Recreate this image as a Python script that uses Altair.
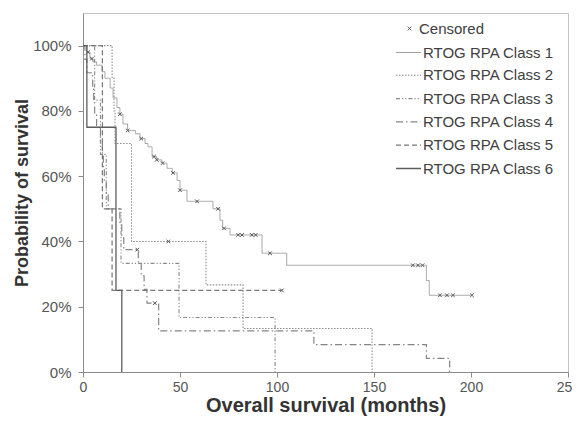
import altair as alt
import pandas as pd

classes = ["RTOG RPA Class 1", "RTOG RPA Class 2", "RTOG RPA Class 3",
           "RTOG RPA Class 4", "RTOG RPA Class 5", "RTOG RPA Class 6"]

# Kaplan-Meier step curves (months, survival %)
c1_t = [0, 2, 3.6, 5, 7, 9.8, 11.3, 14, 15.5, 17.5, 19, 20.6, 23, 27, 29.4, 32, 33.5,
        35.6, 38, 40.7, 43.3, 46, 48.5, 50, 53.6, 67, 70.6, 72, 75.8, 92.3, 105, 177, 178.5, 200.5]
c1_s = [100, 98, 96, 95, 94, 92, 90, 87, 84, 81, 79, 76, 74, 73, 71.5, 70, 69,
        66, 65, 64, 62.4, 61, 58.7, 55.7, 52.3, 50, 46.5, 44, 42, 36.4, 32.7, 28, 23.5, 23.5]
c1_cens = [2.6, 4.6, 19, 23, 30, 36.6, 38, 41, 46.4, 50, 58.8, 69.6, 72.7, 80, 82, 87, 89,
           96.4, 170, 172.7, 175, 184, 187.6, 190.7, 200.5]

c2_t = [0, 15, 16, 16.5, 25, 63.4, 82.5, 149]
c2_s = [100, 90, 80, 70, 40, 26.7, 13.3, 0]
c2_cens = [44]

c3_t = [0, 6, 9, 12, 19.6, 49.5, 99]
c3_s = [100, 83.3, 66.7, 50, 33.3, 16.7, 0]
c3_cens = []

c4_t = [0, 1, 2, 5, 5.5, 6, 7, 9, 10, 10.5, 11, 12, 13, 19, 20, 21, 28.5, 30, 31.5, 33, 39, 119, 177, 189]
c4_s = [100, 95.8, 91.7, 87.5, 83.3, 79.2, 75, 70.8, 66.7, 62.5, 58.3, 54.2, 50, 45.8, 41.7,
        37.5, 33.7, 29.5, 25.3, 21.1, 12.6, 8.4, 4.2, 0]
c4_cens = [28, 37]

c5_t = [0, 10, 15, 102.5]
c5_s = [100, 50, 25, 25]
c5_cens = [102.5]

c6_t = [0, 2, 17, 20]
c6_s = [100, 75, 25, 0]
c6_cens = []

curves = [(c1_t, c1_s, c1_cens), (c2_t, c2_s, c2_cens), (c3_t, c3_s, c3_cens),
          (c4_t, c4_s, c4_cens), (c5_t, c5_s, c5_cens), (c6_t, c6_s, c6_cens)]

x_ticks = [0, 50, 100, 150, 200, 250]
y_ticks = [0, 0.2, 0.4, 0.6, 0.8, 1.0]


def step_value(ts, ss, t):
    v = ss[0]
    for ti, si in zip(ts, ss):
        if ti <= t:
            v = si
    return v


rows, crow = [], []
for name, (ts, ss, cs) in zip(classes, curves):
    for t, s in zip(ts, ss):
        rows.append({"cls": name, "t": t, "s": s / 100})
    for t in cs:
        crow.append({"lab": "Censored", "t": t, "s": step_value(ts, ss, t) / 100})

df = pd.DataFrame(rows)
cdf = pd.DataFrame(crow)

colors = ["#a0a0a0", "#8c8c8c", "#8c8c8c", "#858585", "#7a7a7a", "#5e5e5e"]
dashes = [[1, 0], [1.5, 1.5], [4, 2, 1.2, 2, 1.2, 2], [7, 3, 1.5, 3], [5, 3], [1, 0]]
widths = [1, 1.3, 1.2, 1.2, 1.4, 1.7]

line_legend = alt.Legend(title=None, orient="none", legendX=312, legendY=26.5,
                         symbolType="stroke", symbolSize=625, labelFontSize=15,
                         labelFont="Liberation Sans", labelColor="#404040",
                         rowPadding=1.3, labelOffset=1, padding=0)

x_enc = alt.X("t:Q", scale=alt.Scale(domain=[0, 250], nice=False),
              axis=alt.Axis(values=x_ticks, title="Overall survival (months)",
                            labelFontSize=14, titleFontSize=20, labelPadding=3,
                            titlePadding=1, labelFlush=False))
y_enc = alt.Y("s:Q", scale=alt.Scale(domain=[0, 1.1], nice=False),
              axis=alt.Axis(values=y_ticks, format=".0%", title="Probability of survival",
                            labelFontSize=15, titleFontSize=18, labelPadding=7,
                            titlePadding=1))

lines = alt.Chart(df).mark_line(interpolate="step-after").encode(
    x=x_enc, y=y_enc,
    color=alt.Color("cls:N", scale=alt.Scale(domain=classes, range=colors), legend=line_legend),
    strokeDash=alt.StrokeDash("cls:N", scale=alt.Scale(domain=classes, range=dashes), legend=line_legend),
    strokeWidth=alt.StrokeWidth("cls:N", scale=alt.Scale(domain=classes, range=widths), legend=line_legend),
)

cross = "M-1,-1L1,1M-1,1L1,-1"
pts = alt.Chart(cdf).mark_point(filled=False, size=13, color="#555555", strokeWidth=1, opacity=1).encode(
    x="t:Q", y="s:Q",
    shape=alt.Shape("lab:N", scale=alt.Scale(domain=["Censored"], range=[cross]),
                    legend=alt.Legend(title=None, orient="none", legendX=308, legendY=8,
                                      symbolSize=13, symbolStrokeColor="#555555",
                                      symbolFillColor="transparent", symbolStrokeWidth=1,
                                      symbolOffset=11,
                                      labelFontSize=15, labelFont="Liberation Sans",
                                      labelColor="#404040", labelOffset=2, padding=0)),
)

chart = alt.layer(lines, pts).properties(
    width=485, height=359,
    autosize=alt.AutoSizeParams(type="none"),
    padding={"left": 75, "top": 5, "right": 4, "bottom": 44},
).configure_view(stroke="#c4c4c4", strokeWidth=1).configure_axis(
    grid=False, domainColor="#8a8a8a", tickColor="#8a8a8a", tickSize=5,
    labelFont="Liberation Sans", labelColor="#555555",
    titleFont="Liberation Sans", titleFontWeight="bold", titleColor="#333333",
)

chart.save("out.html", embed_options={"renderer": "svg", "actions": False})
